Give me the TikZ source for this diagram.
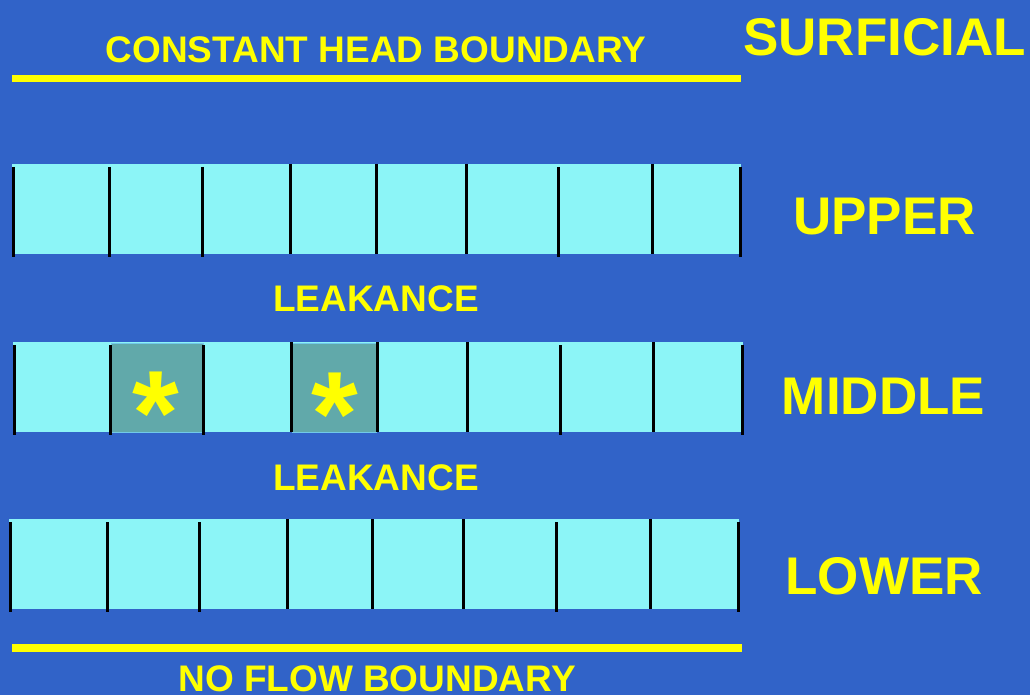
\documentclass[tikz,border=0pt]{standalone}
\usepackage{fontspec}
\setmainfont{Liberation Sans}
\usepackage{xcolor}
\definecolor{slideblue}{RGB}{49,99,200}
\definecolor{cellcyan}{RGB}{140,245,247}
\definecolor{cellteal}{RGB}{97,169,170}
\definecolor{labelyellow}{RGB}{255,255,0}
\tikzset{
  layerlabel/.style={anchor=base, text=labelyellow, font=\bfseries\fontsize{39.75}{40}\selectfont, inner sep=0pt},
  boundlabel/.style={anchor=base, text=labelyellow, font=\bfseries\fontsize{27.75}{28}\selectfont, inner sep=0pt},
  starmark/.style={anchor=base, text=labelyellow, font=\bfseries\fontsize{90}{90}\selectfont, inner sep=0pt, text depth=0pt},
  divider/.style={line width=2.25pt, black},
  boundline/.style={line width=5.5pt, labelyellow}
}
\begin{document}
\begin{tikzpicture}[x=0.75pt, y=-0.75pt]
  \fill[slideblue] (0,0) rectangle (1030,695);
  \useasboundingbox (0,0) rectangle (1030,695);
  % boundaries
  \draw[boundline] (12,78.5) -- (741,78.5);
  \draw[boundline] (12,648) -- (742,648);
  \node[boundlabel] (consthead) at (376,62.5) {CONSTANT HEAD BOUNDARY};
  \node[boundlabel] (noflow) at (377,691) {NO FLOW BOUNDARY};
  % upper layer
  \fill[cellcyan] (12,164) rectangle (741,254);
  \foreach \x in {13.5,109.5,202.5,558.5,740.5}
    \draw[divider] (\x,167) -- (\x,257);
  \foreach \x in {290,376,466,652.5}
    \draw[divider] (\x,164) -- (\x,254);
  % middle layer
  \fill[cellcyan] (13,342) rectangle (743,432);
  \fill[cellteal, draw=cellcyan!70!slideblue, line width=0.6pt] (111,343) rectangle (203,432);
  \fill[cellteal, draw=cellcyan!70!slideblue, line width=0.6pt] (292,343) rectangle (376,432);
  \foreach \x in {14.5,110.5,203.5,560.5,742.5}
    \draw[divider] (\x,345) -- (\x,435);
  \foreach \x in {291.5,377,467.5,653.5}
    \draw[divider] (\x,342) -- (\x,432);
  \node[starmark] (star1) at (156,454) {*};
  \node[starmark] (star2) at (335,455) {*};
  % lower layer
  \fill[cellcyan] (9,519) rectangle (739,609);
  \foreach \x in {10.5,107.5,199.5,556.5,738.5}
    \draw[divider] (\x,522) -- (\x,612);
  \foreach \x in {287.5,372.5,463.5,650.5}
    \draw[divider] (\x,519) -- (\x,609);
  % leakance labels
  \node[boundlabel] (leak1) at (376,311) {LEAKANCE};
  \node[boundlabel] (leak2) at (376,490) {LEAKANCE};
  % layer names
  \node[layerlabel] (surficial) at (884.5,56) {SURFICIAL};
  \node[layerlabel] (upper) at (884.5,234) {UPPER};
  \node[layerlabel] (middle) at (883.5,414) {MIDDLE};
  \node[layerlabel] (lower) at (884,594) {LOWER};
\end{tikzpicture}
\end{document}
